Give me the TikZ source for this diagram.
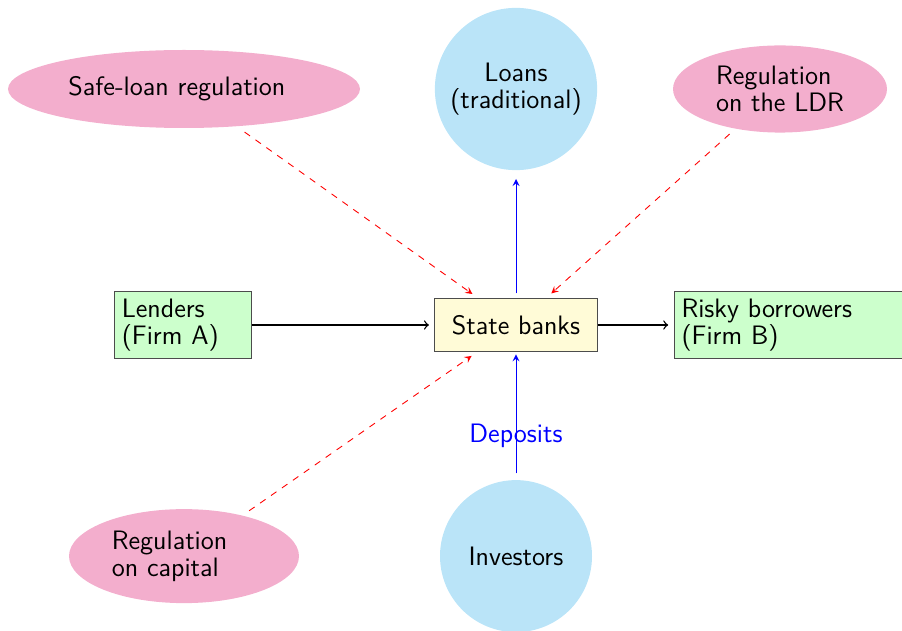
\documentclass[tikz,border=0pt]{standalone}
\usepackage{tikz}
\usetikzlibrary{shapes,shapes.geometric,arrows,positioning}

\definecolor{firmgreen}{RGB}{204,255,204}
\definecolor{bankyellow}{RGB}{255,251,215}
\definecolor{poolblue}{RGB}{186,228,248}
\definecolor{rulepink}{RGB}{243,174,205}

\begin{document}
\begin{tikzpicture}[%
>=stealth,
on grid,
every node/.style={font=\sffamily\fontsize{12}{12}\selectfont},
firm/.style={rectangle, draw=black!70, fill=firmgreen, align=left},
bank/.style={rectangle, draw=black!70, fill=bankyellow, minimum width=73pt, minimum height=24pt},
pool/.style={circle, fill=poolblue, align=center, outer sep=3pt},
rule/.style={ellipse, fill=rulepink, align=left, inner sep=0pt, outer sep=3pt},
flow/.style={-to, semithick, shorten >=2.5pt},
money/.style={->, blue, shorten >=1pt},
regulates/.style={->, red, dashed, shorten >=3pt}
]
\useasboundingbox (-232.2pt,-137.25pt) rectangle (173.7pt,146.25pt);

\node[bank] (banks) {State banks};
\node[firm, text width=55pt] (lenders) [left=149.9pt of banks] {Lenders\\(Firm A)};
\node[firm, text width=114pt] (borrowers) [right=131.5pt of banks] {Risky borrowers\\(Firm B)};
\node[pool, minimum size=73pt] (loans) [above=106.2pt of banks] {Loans\\(traditional)};
\node[pool, minimum size=68.4pt] (investors) [below=104pt of banks] {Investors};
\node[rule, text width=104pt, minimum width=158.4pt, minimum height=35.1pt] (safeloan) [above left=106.2pt and 149.4pt of banks] {Safe-loan regulation};
\node[rule, minimum width=96.3pt, minimum height=39.2pt] (ldr) [above right=106.2pt and 118.8pt of banks] {Regulation\\on the LDR};
\node[rule, text width=65pt, minimum width=103.5pt, minimum height=42.3pt] (capital) [below left=104pt and 149.4pt of banks] {Regulation\\on capital};

% black: flow of funds
\draw[flow] (lenders) -- (banks);
\draw[flow] (banks) -- (borrowers);

% blue: deposits and loans
\draw[money, shorten <=2pt] (banks) -- (loans);
\draw[money] (investors) -- node[pos=0.31, text=blue] {Deposits} (banks);

% red dashed: regulation
\path (safeloan) edge [regulates] (banks);
\path (ldr) edge [regulates] (banks);
\path (capital) edge [regulates] (banks);
\end{tikzpicture}
\end{document}
